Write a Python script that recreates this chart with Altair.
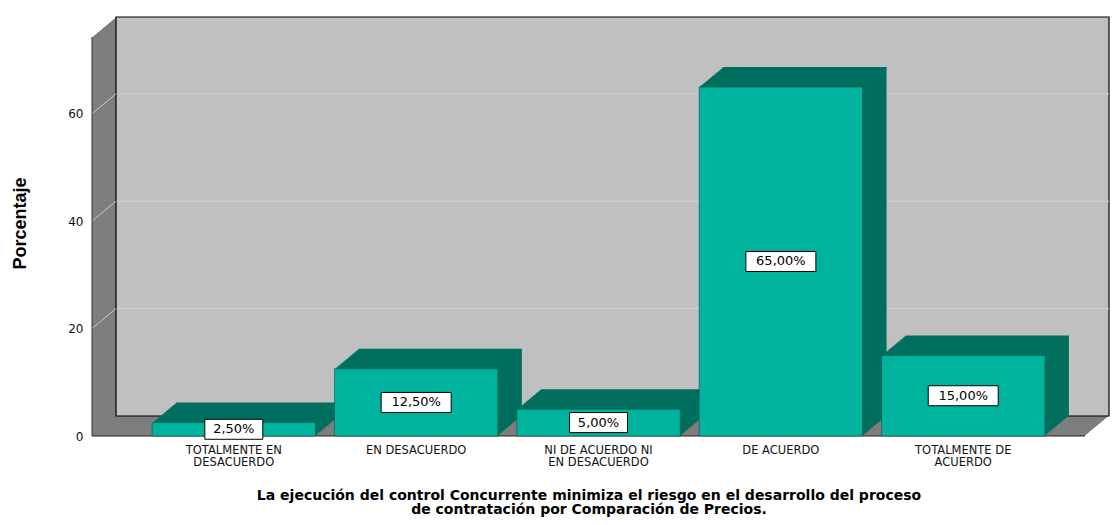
import altair as alt
import pandas as pd

categories = ["TOTALMENTE EN\nDESACUERDO", "EN DESACUERDO", "NI DE ACUERDO NI\nEN DESACUERDO",
              "DE ACUERDO", "TOTALMENTE DE\nACUERDO"]
percentages = [2.5, 12.5, 5.0, 65.0, 15.0]
value_labels = ["2,50%", "12,50%", "5,00%", "65,00%", "15,00%"]
y_ticks = [0, 20, 40, 60]
grid_values = [20, 40, 60]
y_max = 74.3
x_title = ["La ejecución del control Concurrente minimiza el riesgo en el desarrollo del proceso",
           "de contratación por Comparación de Precios."]
y_title = "Porcentaje"

DX, DY, STEPS = 24, 20, 24
TEAL, TEAL_DARK = "#00B39F", "#006F5E"
WALL, BACK = "#7E7E7E", "#C0C0C0"

df = pd.DataFrame({"cat": categories, "pct": percentages, "label": value_labels})
df["mid"] = df["pct"] / 2
grid_df = pd.DataFrame({"pct": grid_values})
one = pd.DataFrame({"k": [0]})

x_enc = alt.X("cat:N", sort=categories,
              scale=alt.Scale(paddingInner=0.104, paddingOuter=0.2747, align=0.6),
              axis=alt.Axis(title=x_title, labelExpr="split(datum.label, '\\n')",
                            labelFont="DejaVu Sans", labelFontSize=11.5, labelColor="#111",
                            labelLineHeight=12, labelBaseline="top", labelPadding=8,
                            ticks=False, domain=False, labelAngle=0,
                            titleFont="DejaVu Sans", titleFontSize=14, titleFontWeight="bold",
                            titleLineHeight=14, titlePadding=21, titleColor="#000"))


def y_enc(field):
    return alt.Y(field, scale=alt.Scale(domain=[0, y_max], nice=False, zero=True),
                 axis=alt.Axis(title=y_title, values=y_ticks, ticks=False, domain=False, grid=False,
                               labelFont="DejaVu Sans", labelFontSize=12, labelColor="#111",
                               labelPadding=9,
                               titleFont="Liberation Sans Narrow, Liberation Sans", titleFontSize=18,
                               titleFontWeight="bold", titleColor="#000", titleX=-72, titleY=186,
                               titleAngle=270, titleAlign="center", titleBaseline="middle"))


layers = []
# box (left wall + floor) by sweeping the front plane backwards
for i in range(STEPS + 1):
    ox = DX * i / STEPS
    oy = -DY * i / STEPS
    layers.append(alt.Chart(one).mark_rect(color=WALL, xOffset=ox, x2Offset=ox, yOffset=oy, y2Offset=oy)
                  .encode(x=alt.value(0), x2=alt.value("width"), y=alt.value(0), y2=alt.value("height")))
# back wall
layers.append(alt.Chart(one).mark_rect(fill=BACK, stroke="#000", strokeWidth=1.2,
                                       xOffset=DX, x2Offset=DX, yOffset=-DY, y2Offset=-DY)
              .encode(x=alt.value(0), x2=alt.value("width"), y=alt.value(0), y2=alt.value("height")))
# gridlines on back wall
layers.append(alt.Chart(grid_df).mark_rule(color="#D2D2D2", strokeWidth=1,
                                           xOffset=DX + 1, x2Offset=DX, yOffset=-DY)
              .encode(x=alt.value(0), x2=alt.value("width"), y=y_enc("pct:Q")))
# gridlines on left wall
layers.append(alt.Chart(grid_df).mark_rule(color="#C8C8C8", strokeWidth=1, x2Offset=DX, y2Offset=-DY)
              .encode(x=alt.value(0), x2=alt.value(0), y=y_enc("pct:Q"), y2="pct:Q"))
# front edges
layers.append(alt.Chart(one).mark_rule(color="#222", strokeWidth=1)
              .encode(x=alt.value(0), x2=alt.value("width"), y=alt.value("height")))
layers.append(alt.Chart(one).mark_rule(color="#333", strokeWidth=1)
              .encode(x=alt.value(0), y=alt.value(0), y2=alt.value("height")))

# bars: depth sweep, then front face
for i in range(STEPS, 0, -1):
    ox = DX * i / STEPS
    oy = -DY * i / STEPS
    layers.append(alt.Chart(df).mark_bar(color=TEAL_DARK, xOffset=ox, yOffset=oy, y2Offset=oy)
                  .encode(x=x_enc, y=y_enc("pct:Q")))
layers.append(alt.Chart(df).mark_bar(color=TEAL, stroke="#00594C", strokeWidth=0.6)
              .encode(x=x_enc, y=y_enc("pct:Q")))

# value label boxes
for n, w in [(5, 58), (6, 70)]:
    layers.append(alt.Chart(df).transform_filter(f"length(datum.label) == {n}")
                  .mark_bar(width=w, fill="#FFFFFF", stroke="#000", strokeWidth=1,
                            yOffset=-10, y2Offset=10)
                  .encode(x=x_enc, y=y_enc("mid:Q"), y2="mid:Q"))
layers.append(alt.Chart(df).mark_text(font="DejaVu Sans", fontSize=13, color="#000", baseline="middle")
              .encode(x=x_enc, y=y_enc("mid:Q"), text="label:N"))

chart = alt.layer(*layers).properties(
    width=993, height=399,
    autosize=alt.AutoSizeParams(type="none"),
    padding={"left": 92, "top": 37, "right": 31, "bottom": 89},
    background="#FFFFFF",
).configure_view(stroke=None)

chart.save("out.html", embed_options={"renderer": "svg", "actions": False})
